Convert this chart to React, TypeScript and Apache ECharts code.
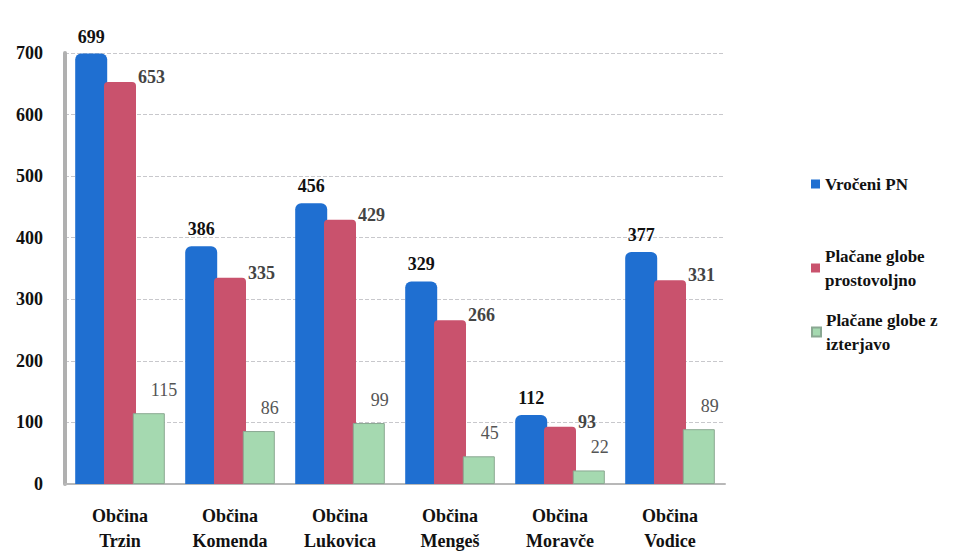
import React, { useEffect, useRef } from "react";
import * as echarts from "echarts";

const categories = ["Občina\nTrzin", "Občina\nKomenda", "Občina\nLukovica", "Občina\nMengeš", "Občina\nMoravče", "Občina\nVodice"];
const seriesNames = ["Vročeni PN", "Plačane globe\nprostovoljno", "Plačane globe z\nizterjavo"];
const vroceni = [699, 386, 456, 329, 112, 377];
const prostovoljno = [653, 335, 429, 266, 93, 331];
const izterjavo = [115, 86, 99, 45, 22, 89];
const yTicks = { min: 0, max: 700, interval: 100 };

const FONT = "Times New Roman, Liberation Serif, DejaVu Serif, serif";

export default function App() {
  const ref = useRef<HTMLDivElement>(null);
  useEffect(() => {
    document.body.style.margin = "0";
    document.body.style.overflow = "hidden";
    const chart = echarts.init(ref.current!, null, { renderer: "svg" });
    const baseLabel = {
      show: true,
      fontFamily: FONT,
      fontWeight: "bold" as const,
      fontSize: 18,
    };
    const legendText = { fontFamily: FONT, fontWeight: "bold", fontSize: 17, color: "#111", lineHeight: 24 };
    const legendTops = [167, 239, 303];
    chart.setOption({
      animation: false,
      backgroundColor: "#ffffff",
      textStyle: { fontFamily: FONT },
      grid: { left: 65, right: 252, top: 53, bottom: 68, containLabel: false, outerBoundsMode: "none" },
      legend: seriesNames.map((n, i) => ({
        orient: "vertical",
        left: 806,
        top: legendTops[i],
        icon: "rect",
        itemWidth: 9,
        itemHeight: 9,
        itemGap: 4,
        textStyle: legendText,
        data: [n],
      })),
      xAxis: {
        type: "category",
        data: categories,
        axisLine: { show: true, lineStyle: { color: "#b8b8b8", width: 2 } },
        axisTick: { show: false },
        axisLabel: {
          fontFamily: FONT,
          fontWeight: "bold",
          fontSize: 18,
          color: "#111",
          lineHeight: 25,
          margin: 19,
        },
      },
      yAxis: {
        type: "value",
        min: yTicks.min,
        max: yTicks.max,
        interval: yTicks.interval,
        axisLine: { show: true, lineStyle: { color: "#b0b0b0", width: 4 } },
        axisTick: { show: false },
        axisLabel: { fontFamily: FONT, fontWeight: "bold", fontSize: 18, color: "#111", margin: 22 },
        splitLine: { show: true, lineStyle: { color: "#c8c8cc", type: "dashed" } },
      },
      series: [
        {
          name: seriesNames[0],
          type: "bar",
          data: vroceni,
          barWidth: 32,
          barGap: "-10%",
          itemStyle: { color: "#1f6fd1", borderRadius: [6, 6, 0, 0] },
          label: { ...baseLabel, color: "#111", position: "top", distance: 8 },
        },
        {
          name: seriesNames[1],
          type: "bar",
          data: prostovoljno,
          barWidth: 32,
          barGap: "-10%",
          itemStyle: { color: "#c9526d", borderRadius: [4, 4, 0, 0] },
          label: { ...baseLabel, color: "#444", position: [34, -14] },
        },
        {
          name: seriesNames[2],
          type: "bar",
          data: izterjavo,
          barWidth: 32,
          barGap: "-10%",
          itemStyle: { color: "#a5d9b0", borderColor: "#8aa892", borderWidth: 1 },
          label: { ...baseLabel, color: "#555", fontWeight: "normal", position: [18, -32] },
        },
      ],
    });
    return () => chart.dispose();
  }, []);
  return <div ref={ref} style={{ width: 977, height: 552, overflow: "hidden" }} />;
}
